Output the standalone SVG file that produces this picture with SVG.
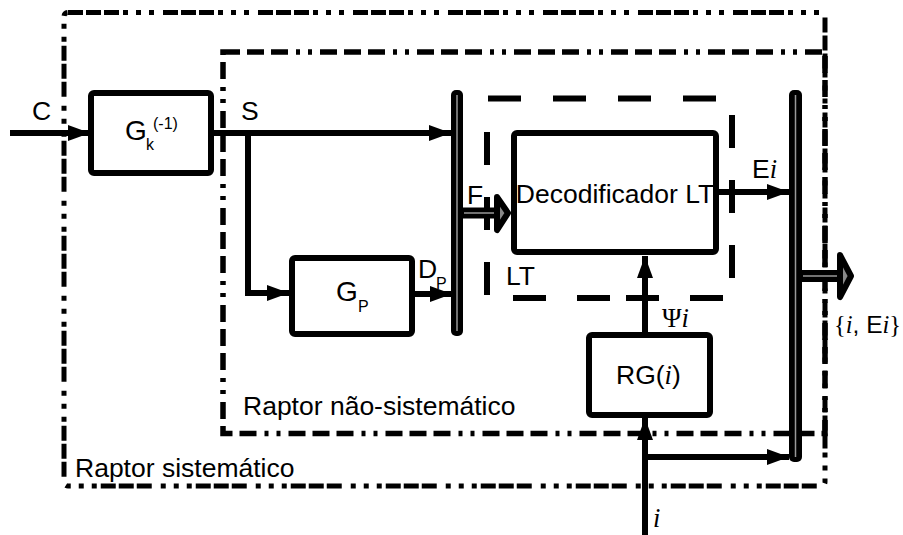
<svg xmlns="http://www.w3.org/2000/svg" width="903" height="535" viewBox="0 0 903 535">
<style>
.t{font-family:"Liberation Sans",Arial,sans-serif;font-size:26.5px;fill:#000}
.g{font-size:28px}
.s{font-size:16px}
.it{font-family:"Liberation Serif","Times New Roman",serif;font-style:italic}
.sf{font-family:"Liberation Serif","Times New Roman",serif}
.box{fill:#fff;stroke:#000;stroke-width:6}
.ln{fill:none;stroke:#000;stroke-width:6}
.bar{fill:#000}
.bl{stroke:#999;stroke-width:1.5}
.fat{fill:#888;stroke:#000;stroke-width:6;stroke-linejoin:round}
</style>
<defs>
<marker id="ah" markerUnits="userSpaceOnUse" markerWidth="22" markerHeight="16" refX="22" refY="8" orient="auto">
<path d="M0,0 L22,8 L0,16 z" fill="#000"/>
</marker>
</defs>
<g id="raptor-sistematico">
<rect x="64" y="12.5" width="761" height="473.5" rx="4" fill="none" stroke="#000" stroke-width="5" stroke-dasharray="15 3 15 3 15 4 5 8 5 8 5 9"/>
<text class="t" x="75" y="477">Raptor sistemático</text>
</g>
<g id="raptor-nao-sistematico">
<rect x="223" y="52" width="602" height="381.5" fill="none" stroke="#000" stroke-width="5.5" stroke-dasharray="17 7 17 7 17 8 4 8 4 8"/>
<text class="t" x="243" y="415">Raptor não-sistemático</text>
</g>
<g id="lt">
<path d="M488,98.5h33M553,98.5h33M618,98.5h33M683,98.5h33M487,132v33M487,197v33M487,262v33M732,115v33M732,180v33M732,245v33M513,298h33M577,298h33M626,298h33M690,298h33" stroke="#000" stroke-width="6" fill="none"/>
<text class="t" x="506" y="285">LT</text>
</g>
<g id="connectors">
<line class="ln" x1="10" y1="133" x2="90" y2="133" marker-end="url(#ah)"/>
<line class="ln" x1="211" y1="133" x2="451" y2="133" marker-end="url(#ah)"/>
<polyline class="ln" points="248,133 248,293 289,293" marker-end="url(#ah)"/>
<line class="ln" x1="412" y1="294" x2="452" y2="294" marker-end="url(#ah)"/>
<line class="ln" x1="716" y1="192" x2="789" y2="192" marker-end="url(#ah)"/>
<line class="ln" x1="645" y1="335" x2="645" y2="256" marker-end="url(#ah)"/>
<line class="ln" x1="645" y1="535" x2="645" y2="418" marker-end="url(#ah)"/>
<line class="ln" x1="645" y1="457" x2="789" y2="457" marker-end="url(#ah)"/>
<line x1="462" y1="213" x2="498" y2="213" stroke="#000" stroke-width="11"/>
<line x1="464" y1="213" x2="500" y2="213" class="bl"/>
<polygon class="fat" points="497,197 508,213 497,230"/>
<line x1="801" y1="276" x2="841" y2="276" stroke="#000" stroke-width="12"/>
<line x1="803" y1="276" x2="843" y2="276" class="bl"/>
<polygon class="fat" points="840,255 851,276 840,297" stroke-width="7"/>
</g>
<g id="bar-left">
<rect class="bar" x="451" y="90" width="12" height="246" rx="5"/>
<line class="bl" x1="457" y1="95" x2="457" y2="331"/>
</g>
<g id="bar-right">
<rect class="bar" x="789" y="90" width="13" height="372" rx="5"/>
<line class="bl" x1="795.5" y1="95" x2="795.5" y2="457"/>
</g>
<g id="gk">
<rect class="box" x="91" y="93" width="120" height="80" rx="3"/>
<text class="t g" x="125" y="140">G<tspan class="s" x="146" y="150">k</tspan><tspan class="s" x="153" y="129">(-1)</tspan></text>
</g>
<g id="gp">
<rect class="box" x="292" y="258" width="120" height="76" rx="3"/>
<text class="t g" x="336" y="301">G<tspan class="s" x="358" y="312">P</tspan></text>
</g>
<g id="decodificador">
<rect class="box" x="514" y="133" width="202" height="119" rx="3"/>
<text class="t" x="615" y="203" text-anchor="middle" style="font-size:26.5px">Decodificador LT</text>
</g>
<g id="rg">
<rect class="box" x="589" y="335" width="121" height="80" rx="3"/>
<text class="t" x="616" y="384">RG(<tspan class="it">i</tspan>)</text>
</g>
<g id="labels">
<text class="t" x="32" y="120">C</text>
<text class="t" x="241" y="120">S</text>
<text class="t" x="418" y="278">D<tspan class="s" x="436" y="289">P</tspan></text>
<text class="t" x="467" y="204">F</text>
<text class="t" x="752" y="178">E<tspan class="it">i</tspan></text>
<text class="t" x="662" y="327"><tspan class="sf">Ψ</tspan><tspan class="it">i</tspan></text>
<text class="t" x="834" y="333" style="font-size:24.5px"><tspan class="sf">{</tspan><tspan class="it">i</tspan>, E<tspan class="it">i</tspan><tspan class="sf">}</tspan></text>
<text class="t" x="653" y="527"><tspan class="it">i</tspan></text>
</g>
</svg>
